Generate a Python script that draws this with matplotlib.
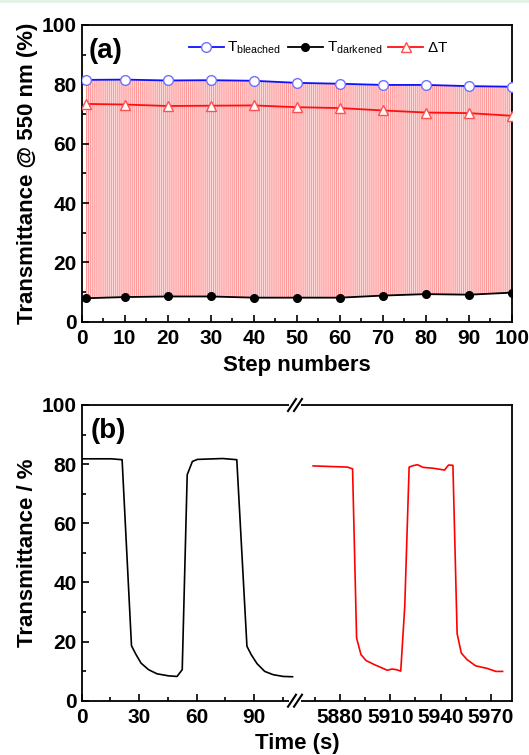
import matplotlib
matplotlib.use('Agg')
from matplotlib import pyplot as plt
from matplotlib.ticker import MultipleLocator
from matplotlib.patches import Rectangle

plt.rcParams['font.family'] = ['Liberation Sans', 'DejaVu Sans']
plt.rcParams['mathtext.default'] = 'regular'
plt.rcParams['hatch.linewidth'] = 0.7

# (a) ciclos: valores a cada 10 passos
steps = [1, 10, 20, 30, 40, 50, 60, 70, 80, 90, 100]
t_bleached = [81.5, 81.6, 81.3, 81.4, 81.2, 80.5, 80.2, 79.8, 79.8, 79.4, 79.2]
t_darkened = [7.9, 8.3, 8.5, 8.5, 8.1, 8.1, 8.1, 8.8, 9.3, 9.1, 9.8]
delta_t = [73.4, 73.2, 72.7, 72.8, 72.9, 72.3, 72.0, 71.2, 70.5, 70.3, 69.4]

# (b) primeiros ciclos (preto)
time_start = [0, 15.5, 21.1, 26.0, 28.2, 31.0, 34.9, 39.3, 45.4, 49.8, 52.5, 55.1,
              57.8, 60.4, 73.6, 81.0, 86.3, 88.6, 91.6, 95.6, 100.0, 105.3, 110.1]
trans_start = [81.8, 81.8, 81.5, 18.6, 15.8, 12.7, 10.5, 9.1, 8.4, 8.2, 10.5, 76.4,
               80.9, 81.6, 81.9, 81.5, 18.4, 15.5, 12.5, 9.9, 8.8, 8.2, 8.1]

# (b) ultimos ciclos (vermelho)
time_end = [5864.0, 5884.5, 5887.5, 5889.9, 5892.5, 5895.5, 5900.5, 5908.2, 5911.0,
            5913.6, 5916.2, 5918.6, 5921.2, 5923.6, 5926.2, 5929.6, 5935.7, 5942.3,
            5944.7, 5947.3, 5949.8, 5952.3, 5955.7, 5960.8, 5967.8, 5972.9, 5976.9]
trans_end = [79.4, 79.0, 78.4, 21.2, 15.6, 13.6, 12.2, 10.3, 10.7,
             10.5, 10.0, 31.9, 79.0, 79.5, 79.8, 78.9, 78.6, 78.0,
             79.7, 79.6, 22.7, 16.1, 13.9, 11.8, 10.9, 9.9, 9.9]

x_ticks_a = [0, 10, 20, 30, 40, 50, 60, 70, 80, 90, 100]
x_ticks_start = [0, 30, 60, 90]
x_ticks_end = [5880, 5910, 5940, 5970]
y_ticks = [0, 20, 40, 60, 80, 100]

W, H = 529, 755


def styleAxes(ax):
    for s in ax.spines.values():
        s.set_linewidth(1.3)
    ax.tick_params(which='both', direction='in', top=False, right=False,
                   width=1.2, labelsize=15)
    ax.tick_params(which='major', length=5)
    ax.tick_params(which='minor', length=3)
    ax.tick_params(axis='x', pad=5)
    for lab in ax.get_xticklabels() + ax.get_yticklabels():
        lab.set_fontweight('bold')


def plotPanelA(fig):
    ax = fig.add_axes([81.7 / W, 1 - 321.7 / H, (512 - 81.7) / W, (321.7 - 25) / H])

    # area dos ciclos
    ax.fill_between(steps, t_darkened, t_bleached, facecolor='#ffdada',
                    edgecolor='#ff9696', hatch='|' * 8, linewidth=0, zorder=1)

    ax.plot(steps, t_bleached, '-o', color='#1010ff', lw=1.3, ms=7,
            mfc='white', mec='#7070ff', mew=1.0, label='T$_{bleached}$', zorder=3)
    ax.plot(steps, t_darkened, '-o', color='black', lw=1.3, ms=5.5,
            label='T$_{darkened}$', zorder=3)
    ax.plot(steps, delta_t, '-^', color='#ff1010', lw=1.3, ms=7.5,
            mfc='white', mec='#ff5050', mew=1.0, label=r'$\Delta$T', zorder=3)

    ax.set_xlim(0, 100)
    ax.set_ylim(0, 100)
    ax.set_xticks(x_ticks_a)
    ax.set_yticks(y_ticks)
    ax.xaxis.set_minor_locator(MultipleLocator(5))
    ax.yaxis.set_minor_locator(MultipleLocator(10))
    styleAxes(ax)

    ax.set_xlabel('Step numbers', fontsize=16, fontweight='bold', labelpad=5)
    ax.set_ylabel('Transmittance @ 550 nm (%)', fontsize=16, fontweight='bold', labelpad=3)
    ax.text(0.015, 0.955, '(a)', transform=ax.transAxes, fontsize=20,
            fontweight='bold', va='top', ha='left')

    ax.legend(loc='center', bbox_to_anchor=(0.55, 0.922), ncol=3, frameon=False,
              fontsize=11, handlelength=2.3, columnspacing=0.4, handletextpad=0.25)


def plotPanelB(fig):
    bottom = 1 - 700.7 / H
    height = (700.7 - 405) / H
    ax1 = fig.add_axes([81.7 / W, bottom, (295 - 81.7) / W, height])
    ax2 = fig.add_axes([295 / W, bottom, (512 - 295) / W, height])

    ax1.plot(time_start, trans_start, '-', color='black', lw=1.2)
    ax2.plot(time_end, trans_end, '-', color='#ff0000', lw=1.2)

    ax1.set_xlim(0, 111.4)
    ax2.set_xlim(5853.2, 5982.5)
    for ax in (ax1, ax2):
        ax.set_ylim(0, 100)
        ax.xaxis.set_minor_locator(MultipleLocator(15))
        ax.yaxis.set_minor_locator(MultipleLocator(10))
    ax1.set_xticks(x_ticks_start)
    ax2.set_xticks(x_ticks_end)
    ax1.set_yticks(y_ticks)
    ax1.spines['right'].set_visible(False)
    ax2.spines['left'].set_visible(False)
    styleAxes(ax1)
    styleAxes(ax2)
    ax2.tick_params(which='both', left=False, labelleft=False)

    ax1.set_ylabel('Transmittance / %', fontsize=16, fontweight='bold', labelpad=3)
    fig.text(297 / W, 1 - 743 / H, 'Time (s)', fontsize=16, fontweight='bold',
             ha='center', va='center')
    ax1.text(0.04, 0.955, '(b)', transform=ax1.transAxes, fontsize=20,
             fontweight='bold', va='top', ha='left')

    # marcas de quebra do eixo
    for yb in (405, 700.7):
        fig.patches.append(Rectangle(((295 - 6) / W, 1 - (yb + 2) / H), 12 / W, 4 / H,
                                     transform=fig.transFigure, facecolor='white',
                                     edgecolor='none', zorder=5))
        for dx in (-3, 3):
            xc = 295 + dx
            fig.lines.append(plt.Line2D([(xc - 4) / W, (xc + 4) / W],
                                        [1 - (yb + 6) / H, 1 - (yb - 6) / H],
                                        transform=fig.transFigure, color='black',
                                        lw=1.5, zorder=6))


def run():
    fig = plt.figure(figsize=(W / 100, H / 100), dpi=100)
    # faixa verde clara no topo
    fig.patches.append(Rectangle((0, 1 - 3 / H), 1, 3 / H, transform=fig.transFigure,
                                 facecolor='#e3f3e6', edgecolor='none'))
    plotPanelA(fig)
    plotPanelB(fig)
    fig.savefig('out.png', dpi=100)


run()
